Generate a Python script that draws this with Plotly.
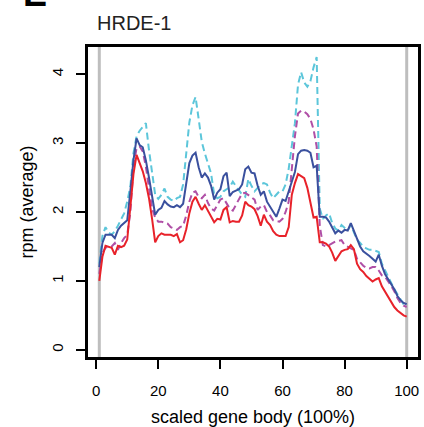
import plotly.graph_objects as go

# position along the scaled gene body (%)
pos = list(range(1, 101))

rep_blue = [1.20, 1.55, 1.67, 1.67, 1.67, 1.62, 1.74, 1.80, 1.84, 1.88,
            2.30, 2.75, 3.07, 2.97, 2.94, 2.75, 2.50, 2.20, 1.96, 2.03,
            2.06, 2.16, 2.11, 2.08, 2.07, 2.10, 2.07, 2.12, 2.45, 2.71,
            2.82, 2.86, 2.65, 2.50, 2.56, 2.50, 2.38, 2.18, 2.28, 2.33,
            2.52, 2.57, 2.23, 2.29, 2.31, 2.33, 2.40, 2.62, 2.66, 2.57,
            2.56, 2.38, 2.25, 2.30, 2.15, 2.08, 2.00, 1.93, 2.05, 2.18,
            2.16, 2.30, 2.46, 2.58, 2.84, 2.89, 2.90, 2.89, 2.86, 2.65,
            2.67, 1.93, 1.93, 1.92, 1.86, 1.78, 1.69, 1.73, 1.70, 1.74,
            1.73, 1.84, 1.72, 1.60, 1.50, 1.43, 1.40, 1.36, 1.32, 1.28,
            1.38, 1.22, 1.10, 1.03, 0.97, 0.88, 0.78, 0.72, 0.68, 0.66]

rep_red = [1.00, 1.35, 1.51, 1.50, 1.48, 1.38, 1.51, 1.49, 1.51, 1.60,
           2.10, 2.55, 2.83, 2.70, 2.59, 2.42, 2.20, 1.90, 1.56, 1.65,
           1.69, 1.67, 1.67, 1.67, 1.65, 1.68, 1.56, 1.59, 1.75, 1.98,
           2.15, 2.22, 2.12, 2.03, 2.10, 2.02, 1.95, 1.85, 1.90, 1.89,
           2.03, 2.07, 1.85, 1.87, 1.86, 1.86, 1.95, 2.15, 2.10, 2.08,
           2.04, 1.94, 1.80, 1.96, 1.86, 1.81, 1.72, 1.67, 1.65, 1.65,
           1.65, 1.78, 2.25, 2.42, 2.55, 2.52, 2.49, 2.35, 2.13, 1.92,
           1.93, 1.56, 1.56, 1.54, 1.50, 1.41, 1.29, 1.37, 1.43, 1.45,
           1.46, 1.52, 1.46, 1.25, 1.17, 1.13, 1.07, 1.03, 0.99, 1.02,
           1.04, 0.92, 0.84, 0.77, 0.70, 0.62, 0.57, 0.53, 0.50, 0.48]

rep_cyan = [1.25, 1.65, 1.78, 1.70, 1.67, 1.72, 1.80, 1.90, 1.98, 2.15,
            2.37, 2.85, 3.10, 3.18, 3.24, 3.29, 2.90, 2.56, 2.25, 2.19,
            2.25, 2.34, 2.22, 2.18, 2.16, 2.20, 2.22, 2.40, 2.90, 3.30,
            3.55, 3.67, 3.35, 3.02, 2.85, 2.72, 2.56, 2.25, 2.20, 2.22,
            2.30, 2.33, 2.36, 2.44, 2.38, 2.31, 2.25, 2.22, 2.48, 2.38,
            2.30, 2.35, 2.40, 2.42, 2.40, 2.28, 2.20, 2.25, 2.30, 2.30,
            2.40, 2.63, 2.95, 3.29, 3.85, 4.03, 3.88, 3.82, 3.90, 4.10,
            4.25, 2.05, 1.90, 1.95, 1.98, 1.84, 1.76, 1.73, 1.81, 1.77,
            1.73, 1.81, 1.70, 1.60, 1.55, 1.50, 1.47, 1.45, 1.45, 1.44,
            1.42, 1.25, 1.15, 1.06, 0.97, 0.88, 0.80, 0.74, 0.66, 0.62]

rep_magenta = [1.10, 1.40, 1.48, 1.50, 1.50, 1.55, 1.45, 1.55, 1.62, 1.67,
               2.00, 2.65, 2.93, 2.95, 2.88, 2.66, 2.35, 2.05, 1.92, 1.86,
               1.86, 1.85, 1.83, 1.78, 1.76, 1.74, 1.78, 1.80, 1.95, 2.15,
               2.28, 2.30, 2.22, 2.20, 2.25, 2.13, 2.05, 2.02, 2.10, 2.18,
               2.20, 2.12, 2.05, 2.02, 2.10, 2.20, 2.27, 2.28, 2.25, 2.22,
               2.18, 2.03, 2.08, 2.10, 2.00, 1.95, 1.88, 1.87, 1.86, 1.90,
               2.00, 2.15, 2.65, 3.10, 3.43, 3.47, 3.46, 3.42, 3.35, 3.20,
               2.95, 1.80, 1.52, 1.50, 1.52, 1.55, 1.57, 1.58, 1.59, 1.52,
               1.50, 1.48, 1.45, 1.32, 1.27, 1.22, 1.19, 1.18, 1.20, 1.20,
               1.15, 1.08, 1.06, 1.00, 0.93, 0.85, 0.75, 0.68, 0.64, 0.62]

x_ticks = [0, 20, 40, 60, 80, 100]
y_ticks = [0, 1, 2, 3, 4]

FONT = "Arial, Liberation Sans, sans-serif"

fig = go.Figure()

# dashed profiles first, solid ones on top
fig.add_trace(go.Scatter(x=pos, y=rep_cyan, mode="lines",
                         line=dict(color="#5cc6da", width=2, dash="7px,4px")))
fig.add_trace(go.Scatter(x=pos, y=rep_magenta, mode="lines",
                         line=dict(color="#b04fa6", width=2, dash="7px,4px")))
fig.add_trace(go.Scatter(x=pos, y=rep_blue, mode="lines",
                         line=dict(color="#3a509e", width=2)))
fig.add_trace(go.Scatter(x=pos, y=rep_red, mode="lines",
                         line=dict(color="#e8222a", width=2)))

# grey markers at gene start / end
for xv in (1, 100):
    fig.add_shape(type="line", xref="x", yref="paper", x0=xv, x1=xv, y0=0, y1=1,
                  line=dict(color="#bebebe", width=3), layer="below")

# plot frame
fig.add_shape(type="rect", xref="paper", yref="paper", x0=0, x1=1, y0=0, y1=1,
              line=dict(color="#000", width=2), layer="above")

fig.add_annotation(text="HRDE-1", xref="paper", yref="paper", x=0.024, y=1.033,
                   xanchor="left", yanchor="bottom", showarrow=False,
                   font=dict(family=FONT, size=20, color="#222"))
# panel letter, mostly cut off by the top edge
fig.add_annotation(text="<b>E</b>", xref="paper", yref="paper", x=-0.2, y=1.097,
                   xanchor="left", yanchor="bottom", showarrow=False,
                   font=dict(family=FONT, size=36, color="#000"))

fig.update_layout(
    width=424, height=427,
    margin=dict(l=87, r=5, t=46, b=69, autoexpand=False),
    paper_bgcolor="white", plot_bgcolor="white",
    showlegend=False,
    font=dict(family=FONT, size=15, color="#000"),
    xaxis=dict(range=[-2.96, 103.96], tickvals=x_ticks, ticks="outside",
               ticklen=9, tickwidth=1.5, tickcolor="#000", showgrid=False,
               zeroline=False, showline=True, linecolor="#000", linewidth=2,
               mirror=True, automargin=False, ticklabelstandoff=9,
               title=dict(text="scaled gene body (100%)", standoff=22),
               tickfont=dict(size=15)),
    yaxis=dict(range=[-0.12, 4.41], tickvals=y_ticks, ticks="outside",
               ticklen=9, tickwidth=1.5, tickcolor="#000", showgrid=False,
               zeroline=False, showline=True, linecolor="#000", linewidth=2,
               mirror=True, tickangle=-90, automargin=False, ticklabelstandoff=7,
               title=dict(text="rpm (average)", standoff=11),
               tickfont=dict(size=15)),
)

# drop the default body margin so the figure fills the window without scrollbars
fig.write_html("out.html", config={"displayModeBar": False},
               post_script="document.body.style.margin='0';document.body.style.overflow='hidden';")
